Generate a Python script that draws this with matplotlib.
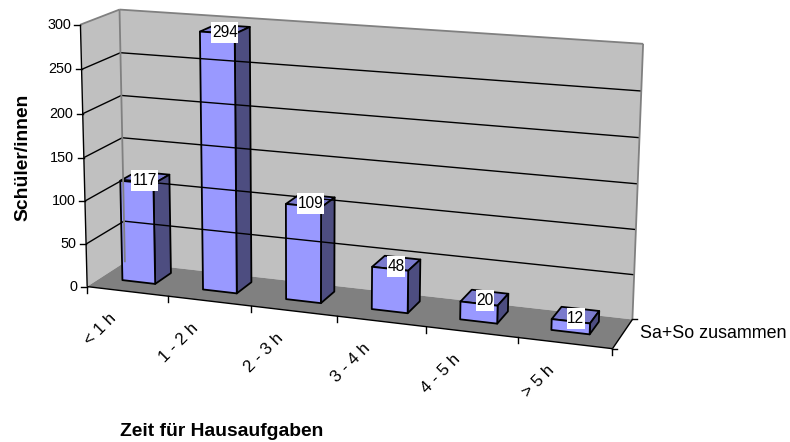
import numpy as np
import matplotlib
matplotlib.use('Agg')
import matplotlib.pyplot as plt
from matplotlib.patches import Rectangle

categories = ['< 1 h', '1 - 2 h', '2 - 3 h', '3 - 4 h', '4 - 5 h', '> 5 h']
values = [117, 294, 109, 48, 20, 12]
yticks = [0, 50, 100, 150, 200, 250, 300]
series_name = 'Sa+So zusammen'
y_title = 'Schüler/innen'
x_title = 'Zeit für Hausaufgaben'

plt.rcParams['font.family'] = ['Liberation Sans', 'DejaVu Sans']

# box corners of the 3d chart (x, depth, value) and where they land in pixels
box = [(0, 0, 0), (6, 0, 0), (6, 1, 0), (0, 1, 0), (0, 0, 300), (0, 1, 300), (6, 1, 300)]
pix = [(89, 286), (612, 350), (633, 318), (123, 263), (79, 24), (121, 10), (643, 44)]

rows = []
rhs = []
for (X, Y, Z), (u, v) in zip(box, pix):
    rows.append([X, Y, Z, 1, 0, 0, 0, 0, -u*X, -u*Y, -u*Z])
    rows.append([0, 0, 0, 0, X, Y, Z, 1, -v*X, -v*Y, -v*Z])
    rhs += [u, v]
cam = np.linalg.lstsq(np.array(rows, float), np.array(rhs, float), rcond=None)[0]
cam = np.append(cam, 1).reshape(3, 4)


def proj(x, d, z):
    p = cam @ np.array([x, d, z, 1.0])
    return p[0]/p[2], p[1]/p[2]


def face(points, color, **kw):
    xy = [proj(*p) for p in points]
    ax.fill([q[0] for q in xy], [q[1] for q in xy], facecolor=color, **kw)


def line(a, b, color='black', lw=1.0):
    pa, pb = proj(*a), proj(*b)
    ax.plot([pa[0], pb[0]], [pa[1], pb[1]], color=color, lw=lw, solid_capstyle='butt')


fig = plt.figure(figsize=(7.9, 4.42), dpi=100)
ax = fig.add_axes([0, 0, 1, 1])
ax.set_xlim(0, 790)
ax.set_ylim(442, 0)
ax.axis('off')

n = len(categories)
top = yticks[-1]
wall = '#C0C0C0'
floor = '#808080'
edge = '#808080'

# walls and floor
face([(0, 0, 0), (0, 1, 0), (0, 1, top), (0, 0, top)], wall, edgecolor='none')
face([(0, 1, 0), (n, 1, 0), (n, 1, top), (0, 1, top)], wall, edgecolor='none')
face([(0, 0, 0), (n, 0, 0), (n, 1, 0), (0, 1, 0)], floor, edgecolor='none')

# grid lines
for v in yticks[1:-1]:
    line((0, 0, v), (0, 1, v))
    line((0, 1, v), (n, 1, v))
line((0, 0, top), (0, 1, top), edge, 1.3)
line((0, 1, top), (n, 1, top), edge, 1.3)
line((0, 1, 0), (0, 1, top), edge, 1.3)
line((n, 1, 0), (n, 1, top), edge, 1.3)

# axis lines and ticks
line((0, 0, 0), (0, 0, top), 'black', 1.0)
line((0, 0, 0), (n, 0, 0), 'black', 1.0)
line((n, 0, 0), (n, 1, 0), 'black', 1.0)
for v in yticks:
    px, py = proj(0, 0, v)
    ax.plot([px - 6, px], [py, py], color='black', lw=1.0)
    ax.text(px - 9.5, py, str(v), ha='right', va='center', fontsize=10.4)
for i in range(n + 1):
    px, py = proj(i, 0, 0)
    ax.plot([px, px], [py, py + 6], color='black', lw=1.0)
for d in [0, 1]:
    px, py = proj(n, d, 0)
    ax.plot([px, px + 5], [py, py], color='black', lw=1.0)

# bars
a0, a1 = 0.27, 0.68
d0, d1 = 0.36, 0.80
front = '#9999FF'
side = '#4D4D80'
cap = '#7A7ACC'
for i, val in enumerate(values):
    x0, x1 = i + a0, i + a1
    kw = dict(edgecolor='black', linewidth=1.3, joinstyle='round')
    face([(x0, d0, val), (x1, d0, val), (x1, d1, val), (x0, d1, val)], cap, **kw)
    face([(x1, d0, 0), (x1, d1, 0), (x1, d1, val), (x1, d0, val)], side, **kw)
    face([(x0, d0, 0), (x1, d0, 0), (x1, d0, val), (x0, d0, val)], front, **kw)

# data labels sit in a white box
for i, val in enumerate(values):
    px, py = proj(i + (a0 + a1)/2, (d0 + d1)/2, val)
    py += 3
    w = 9*len(str(val))
    ax.add_patch(Rectangle((px - w/2, py - 10.5), w, 21, facecolor='white', edgecolor='none', zorder=5))
    ax.text(px, py, str(val), ha='center', va='center', fontsize=11.2, zorder=6)

# category labels
for i, name in enumerate(categories):
    px, py = proj(i + 0.5, 0, 0)
    ax.text(px - 8, py + 19, name, rotation=45, ha='right', va='top',
            rotation_mode='default', fontsize=12.2)

ax.text(640, 334, series_name, ha='left', va='center', fontsize=12.9)
ax.text(23, 157.5, y_title, rotation=90, ha='center', va='center', fontsize=13.9, fontweight='bold')
ax.text(221.5, 431.5, x_title, ha='center', va='center', fontsize=13.9, fontweight='bold')

fig.savefig('out.png', dpi=100)
